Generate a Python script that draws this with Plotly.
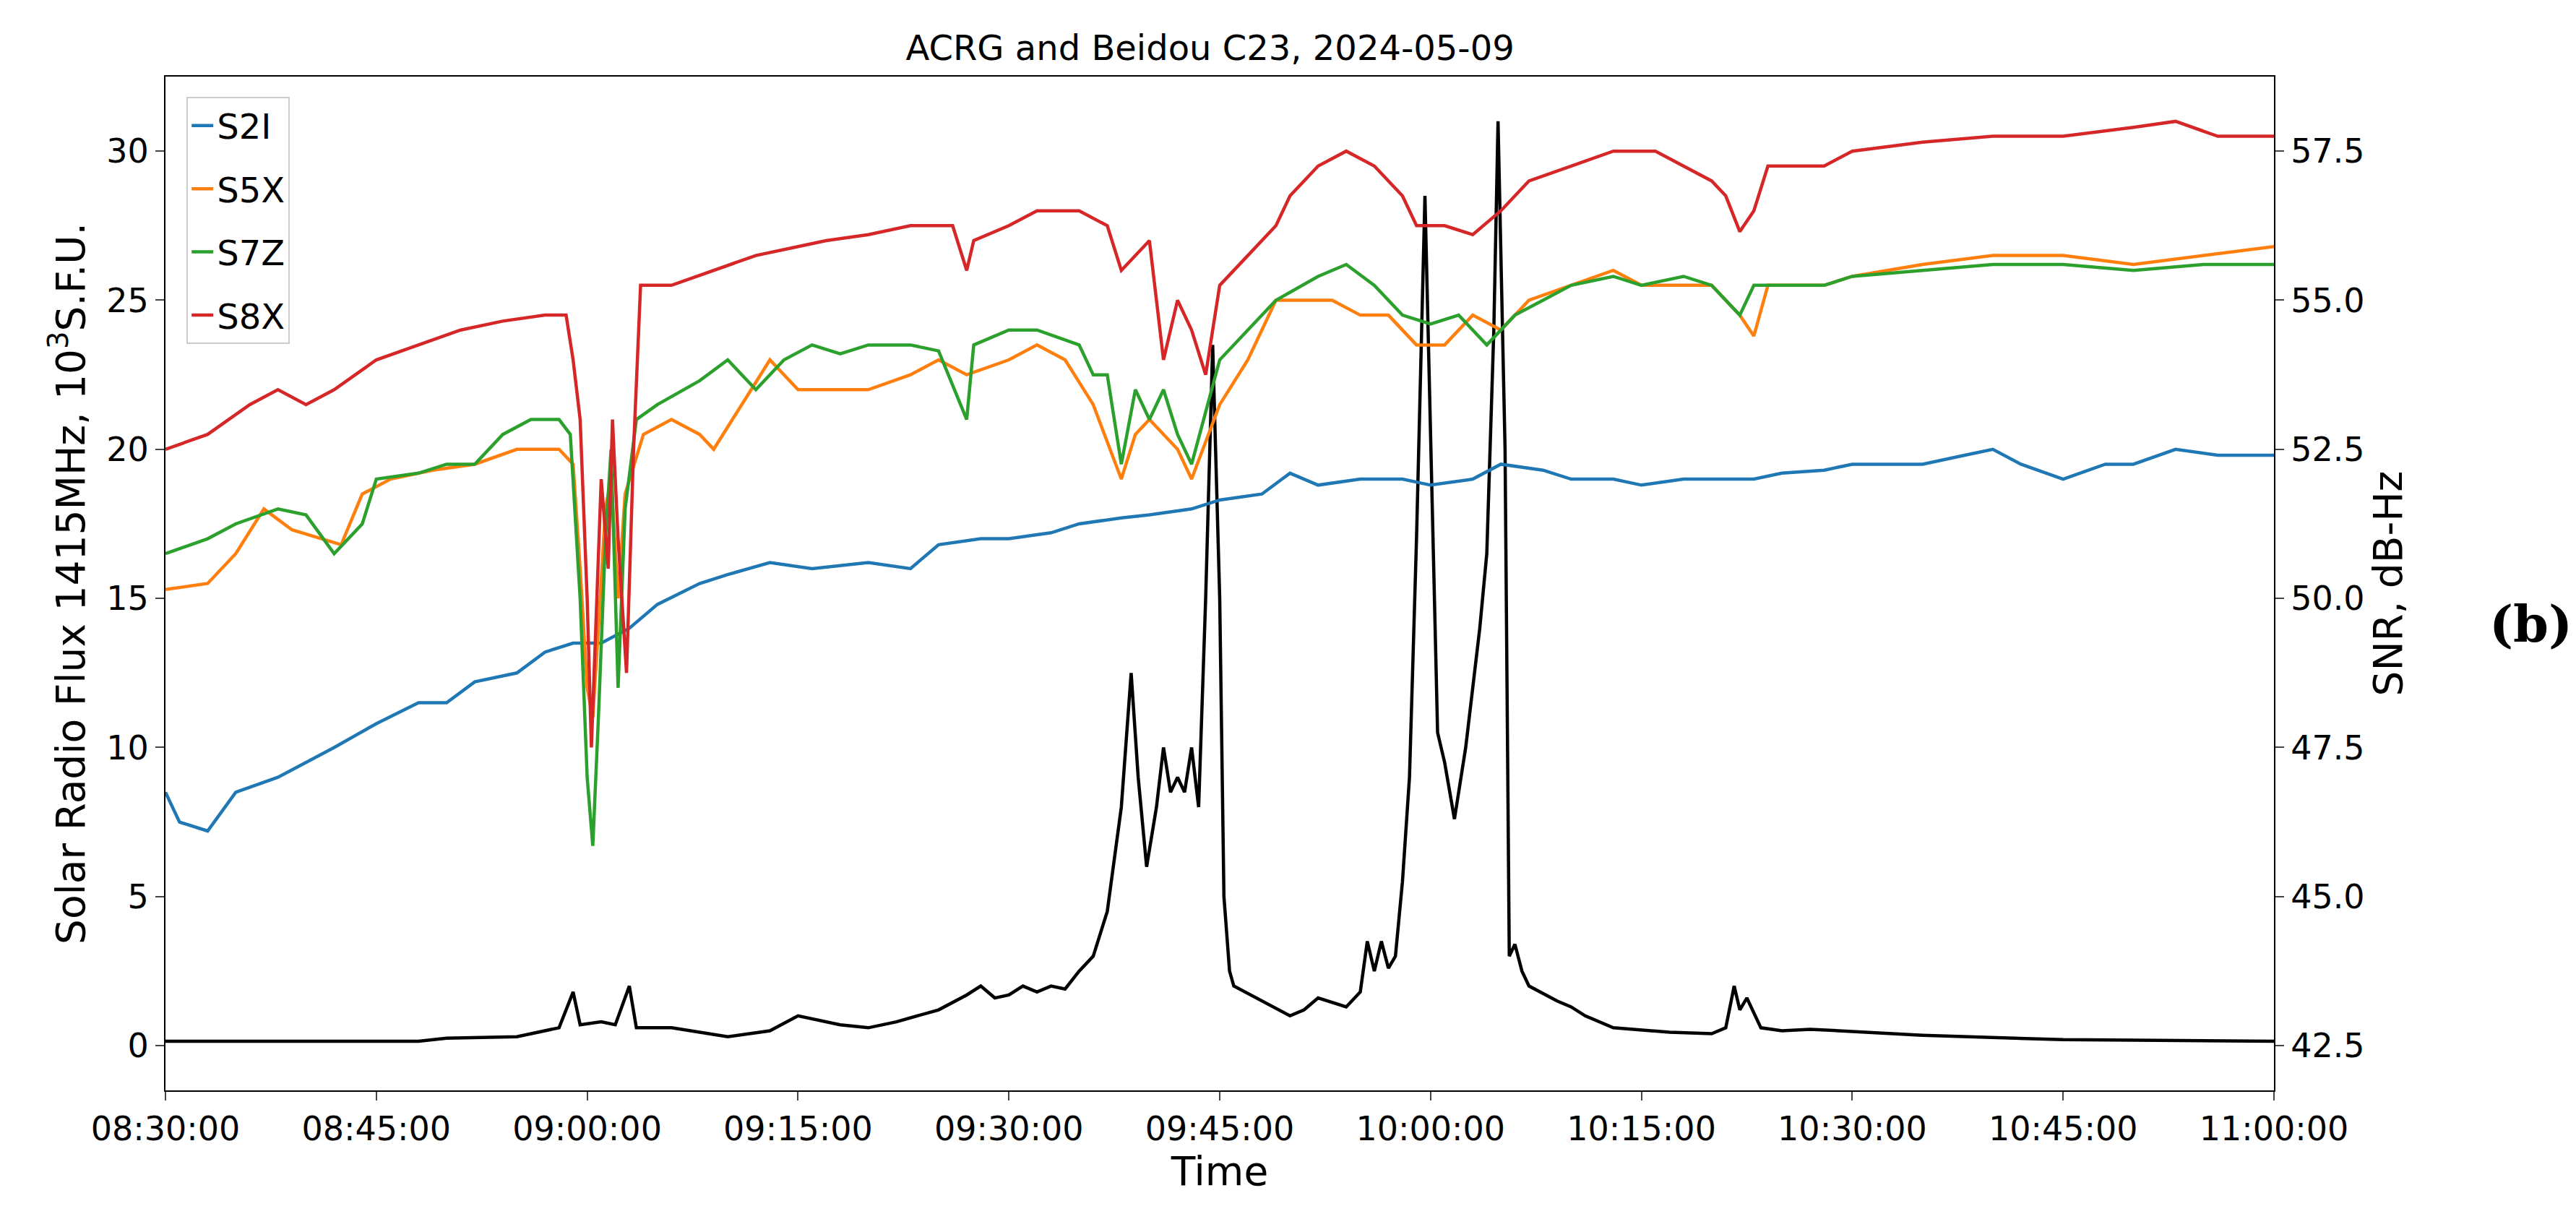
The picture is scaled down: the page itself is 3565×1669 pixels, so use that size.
import pandas as pd
import plotly.graph_objects as go

BASE = pd.Timestamp("2024-05-09 08:30:00")

# Solar radio flux (left axis), minutes after 08:30
flux_t = [0,10,18,20,25,28,29,29.5,31,32,33,33.5,36,40,43,45,48,50,52,55,57,58,59,60,61,62,63,64,65,66,67,68,68.7,69.2,69.8,70.5,71,71.5,72,72.5,73,73.5,74,74.5,75,75.3,75.7,76,78,80,81,82,84,85,85.5,86,86.5,87,87.5,88,88.5,89,89.6,90,90.5,91,91.7,92.5,93.5,94,94.5,94.8,95.3,95.6,96,96.5,97,99,100,101,103,107,110,111,111.6,112,112.5,113.5,115,117,125,135,150]
flux_v = [0.15,0.15,0.15,0.25,0.3,0.6,1.8,0.7,0.8,0.7,2.0,0.6,0.6,0.3,0.5,1.0,0.7,0.6,0.8,1.2,1.7,2.0,1.6,1.7,2.0,1.8,2.0,1.9,2.5,3.0,4.5,8.0,12.5,9.0,6.0,8.0,10.0,8.5,9.0,8.5,10.0,8.0,15.0,23.5,15.0,5.0,2.5,2.0,1.5,1.0,1.2,1.6,1.3,1.8,3.5,2.5,3.5,2.6,3.0,5.5,9.0,17.0,28.5,20.0,10.5,9.5,7.6,10.0,14.0,16.5,24.0,31.0,20.0,3.0,3.4,2.5,2.0,1.5,1.3,1.0,0.6,0.45,0.4,0.6,2.0,1.2,1.6,0.6,0.5,0.55,0.35,0.2,0.15]

# SNR readings, expressed in left-axis units
s2i_t = [0,1,3,5,8,10,12,15,18,20,22,25,27,29,31,33,35,38,40,43,46,50,53,55,58,60,63,65,68,70,73,75,78,80,82,85,88,90,93,95,98,100,103,105,108,110,113,115,118,120,123,125,128,130,132,135,138,140,143,146,150]
s2i_f = [8.5,7.5,7.2,8.5,9,9.5,10,10.8,11.5,11.5,12.2,12.5,13.2,13.5,13.5,14,14.8,15.5,15.8,16.2,16,16.2,16,16.8,17,17,17.2,17.5,17.7,17.8,18,18.3,18.5,19.2,18.8,19,19,18.8,19,19.5,19.3,19,19,18.8,19,19,19,19.2,19.3,19.5,19.5,19.5,19.8,20,19.5,19,19.5,19.5,20,19.8,19.8]

s5x_t = [0,3,5,7,9,11,12.5,14,16,19,22,25,28,29,29.5,30,30.4,30.8,31.3,31.7,32.2,32.7,34,36,38,39,41,43,45,47,50,53,55,57,60,62,64,66,68,69,70,72,73,75,77,79,81,83,85,87,89,91,93,95,97,100,103,105,108,110,112,113,114,118,120,125,130,135,140,145,150]
s5x_f = [15.3,15.5,16.5,18,17.3,17,16.8,18.5,19,19.3,19.5,20,20,19.5,16,12,11,14,18,19,15,18.5,20.5,21,20.5,20,21.5,23,22,22,22,22.5,23,22.5,23,23.5,23,21.5,19,20.5,21,20,19,21.5,23,25,25,25,24.5,24.5,23.5,23.5,24.5,24,25,25.5,26,25.5,25.5,25.5,24.5,23.8,25.5,25.5,25.8,26.2,26.5,26.5,26.2,26.5,26.8]

s7z_t = [0,3,5,8,10,12,14,15,18,20,22,24,26,28,28.8,29.5,30,30.4,30.8,31.3,31.7,32.2,32.7,33.5,35,38,40,42,44,46,48,50,53,55,57,57.5,60,62,65,66,67,68,69,70,71,72,73,75,77,79,82,84,86,88,90,92,94,96,98,100,103,105,108,110,112,113,115,118,120,125,130,135,140,145,150]
s7z_f = [16.5,17,17.5,18,17.8,16.5,17.5,19,19.2,19.5,19.5,20.5,21,21,20.5,15,9,6.7,11,17,20,12,18,21,21.5,22.3,23,22,23,23.5,23.2,23.5,23.5,23.3,21,23.5,24,24,23.5,22.5,22.5,19.5,22,21,22,20.5,19.5,23,24,25,25.8,26.2,25.5,24.5,24.2,24.5,23.5,24.5,25,25.5,25.8,25.5,25.8,25.5,24.5,25.5,25.5,25.5,25.8,26,26.2,26.2,26,26.2,26.2]

s8x_t = [0,3,6,8,10,12,15,18,21,24,27,28.5,29,29.5,30,30.3,30.6,31,31.5,31.8,32.2,32.8,33.3,33.8,36,39,42,45,47,50,53,55,56,57,57.5,60,62,65,67,68,69,70,70.5,71,72,73,74,75,77,79,80,82,84,86,88,89,91,93,95,97,100,103,106,108,110,111,112,113,114,116,118,120,125,130,135,140,143,146,150]
s8x_f = [20,20.5,21.5,22,21.5,22,23,23.5,24,24.3,24.5,24.5,23,21,15,10,14,19,16,21,17,12.5,20,25.5,25.5,26,26.5,26.8,27,27.2,27.5,27.5,27.5,26,27,27.5,28,28,27.5,26,26.5,27,25,23,25,24,22.5,25.5,26.5,27.5,28.5,29.5,30,29.5,28.5,27.5,27.5,27.2,28,29,29.5,30,30,29.5,29,28.5,27.3,28,29.5,29.5,29.5,30,30.3,30.5,30.5,30.8,31,30.5,30.5]

x_ticks = ["08:30:00","08:45:00","09:00:00","09:15:00","09:30:00","09:45:00","10:00:00","10:15:00","10:30:00","10:45:00","11:00:00"]

def tm(m):
    return [BASE + pd.Timedelta(minutes=v) for v in m]

def snr(f):
    return [42.5 + v / 2 for v in f]

fig = go.Figure()
fig.add_trace(go.Scatter(x=tm(flux_t), y=flux_v, mode="lines", line=dict(color="black", width=4.5), showlegend=False))
for name, t, f, c in [("S2I", s2i_t, s2i_f, "#1f77b4"), ("S5X", s5x_t, s5x_f, "#ff7f0e"),
                      ("S7Z", s7z_t, s7z_f, "#2ca02c"), ("S8X", s8x_t, s8x_f, "#d62728")]:
    fig.add_trace(go.Scatter(x=tm(t), y=snr(f), mode="lines", name=name, yaxis="y2", legendgroup=name,
                             line=dict(color=c, width=4.5)))

font = dict(family="DejaVu Sans", size=46, color="black")
fig.update_layout(
    width=3565, height=1669, plot_bgcolor="white", paper_bgcolor="white", font=font,
    margin=dict(l=221, r=426, t=98, b=168),
    title=dict(text="ACRG and Beidou C23, 2024-05-09", x=0.4675, xanchor="center", y=0.975, yanchor="top", font=dict(size=48)),
    xaxis=dict(range=[BASE, BASE + pd.Timedelta(minutes=150)], tickvals=[BASE + pd.Timedelta(minutes=15 * i) for i in range(11)],
               ticktext=x_ticks, ticks="outside", ticklen=12, tickwidth=2, showgrid=False, zeroline=False,
               showline=True, linecolor="black", linewidth=2, mirror=True,
               title=dict(text="Time", standoff=8)),
    yaxis=dict(range=[-1.5, 32.5], tickvals=[0, 5, 10, 15, 20, 25, 30], ticks="outside", ticklen=12, tickwidth=2,
               showgrid=False, zeroline=False, showline=True, linecolor="black", linewidth=2,
               title=dict(text="Solar Radio Flux 1415MHz, 10<sup>3</sup>S.F.U.", standoff=12)),
    yaxis2=dict(range=[41.75, 58.75], overlaying="y", side="right", tickvals=[42.5, 45, 47.5, 50, 52.5, 55, 57.5],
                tickformat=".1f", ticks="outside", ticklen=12, tickwidth=2, showgrid=False, zeroline=False,
                showline=True, linecolor="black", linewidth=2, title=dict(text="SNR, dB-Hz", standoff=12)),
    legend=dict(x=0.01, y=0.98, xanchor="left", yanchor="top", bordercolor="#cccccc", borderwidth=2,
                bgcolor="rgba(255,255,255,0.8)", font=dict(size=48), tracegroupgap=22),
)
fig.add_annotation(text="<b>(b)</b>", xref="paper", yref="paper", x=1.122, y=0.46, xanchor="center", showarrow=False,
                   font=dict(family="DejaVu Serif", size=70, color="black"))
fig.write_html("out.html")
